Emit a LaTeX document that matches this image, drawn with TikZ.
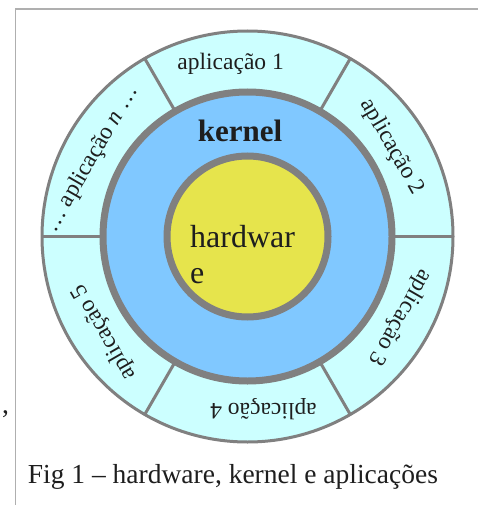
\documentclass[tikz,border=0pt]{standalone}
\usepackage{fontspec}
\setmainfont{Liberation Serif}
\usetikzlibrary{calc}
\definecolor{appfill}{RGB}{204,255,255}
\definecolor{kernfill}{RGB}{128,200,255}
\definecolor{hwfill}{RGB}{230,228,76}
\definecolor{ringgray}{RGB}{128,128,128}
\definecolor{framegray}{RGB}{175,175,175}
\definecolor{textdark}{RGB}{30,30,30}
\begin{document}
\begin{tikzpicture}[x=1pt,y=-1pt,
  ring/.style={circle, draw=ringgray, inner sep=0pt, outer sep=0pt},
  divider/.style={draw=ringgray, line width=3pt},
  applabel/.style={inner sep=0pt, text=textdark, font=\fontsize{23.5}{28}\selectfont},
  plainlabel/.style={inner sep=0pt, text=textdark}]
\useasboundingbox (0,0) rectangle (478,505);
\fill[white] (0,0) rectangle (478,505);
% frame
\coordinate (frtr) at (478,9);
\coordinate (frtl) at (15.5,9);
\coordinate (frbl) at (15.5,505);
\draw[framegray, line width=1.5pt] (frtr) -- (frtl) -- (frbl);
% rings
\coordinate (c) at (247.5,236.5);
\node[ring, fill=appfill, line width=3pt, minimum size=411pt] (outer) at (c) {};
\node[ring, fill=kernfill, line width=7pt, minimum size=289pt] (kernel) at (c) {};
\node[ring, fill=hwfill, line width=7pt, minimum size=161pt] (hw) at (c) {};
\foreach \a in {0,60,120,180,240,300} \draw[divider] (kernel.\a) -- (outer.\a);
% application labels
\node[applabel] (app1) at ($(c)+(95.6:173pt)$) {aplicação 1};
\node[applabel, rotate=-60] (app2) at ($(c)+(31.7:170pt)$) {aplicação 2};
\node[applabel, rotate=-120] (app3) at ($(c)+(-28:172.7pt)$) {aplicação 3};
\node[applabel, rotate=180] (app4) at ($(c)+(-84.7:173.5pt)$) {aplicação 4};
\node[applabel, rotate=120] (app5) at ($(c)+(-146.3:172.5pt)$) {aplicação 5};
\node[applabel, rotate=60] (appn) at ($(c)+(153.6:174pt)$) {… aplicação \textit{n} …};
% centre labels
\node[plainlabel, anchor=base, font=\bfseries\fontsize{31}{36}\selectfont] (klabel) at (240,141.7) {kernel};
\node[plainlabel, anchor=base west, align=left, font=\fontsize{32}{36}\selectfont] (hwlabel) at (190,283) {hardwar\\e};
% caption and stray comma
\node[plainlabel, anchor=base west, font=\fontsize{27.5}{33}\selectfont] (caption) at (27.7,483) {Fig 1 – hardware, kernel e aplicações};
\node[plainlabel, anchor=base west, font=\fontsize{27.5}{33}\selectfont] (comma) at (2,413) {,};
\end{tikzpicture}
\end{document}
